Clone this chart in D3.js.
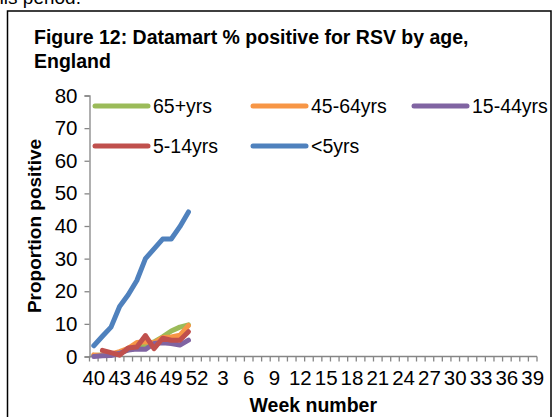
<!DOCTYPE html>
<html>
<head>
<meta charset="utf-8">
<script src="https://cdn.jsdelivr.net/npm/d3@7"></script>
<style>
  body { margin: 0; background: #fff; }
  svg { display: block; font-family: Arial, "Liberation Sans", sans-serif; }
</style>
</head>
<body>
<div id="chart"></div>
<script>
// weeks 40-52 then 1-39
const weeks = [40, 41, 42, 43, 44, 45, 46, 47, 48, 49, 50, 51, 52,
  1, 2, 3, 4, 5, 6, 7, 8, 9, 10, 11, 12, 13, 14, 15, 16, 17, 18, 19, 20,
  21, 22, 23, 24, 25, 26, 27, 28, 29, 30, 31, 32, 33, 34, 35, 36, 37, 38, 39];
const yTicks = [0, 10, 20, 30, 40, 50, 60, 70, 80];

const seriesNames = ["65+yrs", "45-64yrs", "15-44yrs", "5-14yrs", "<5yrs"];
const seriesColors = ["#9BBB59", "#F79646", "#8064A2", "#C0504D", "#4F81BD"];

// values for weeks 40..51
const age65 = [0.3, 0.5, 0.7, 1.2, 2.0, 3.0, 3.7, 4.5, 6.0, 7.8, 9.0, 9.7];
const age45 = [0.5, 0.3, 0.8, 1.5, 2.5, 4.3, 4.5, 4.2, 5.8, 6.0, 6.5, 9.5];
const age15 = [0.0, 0.2, 0.3, 1.0, 2.0, 2.3, 2.2, 4.0, 4.2, 4.0, 3.5, 5.0];
const age5 = [null, 1.9, 1.2, 0.4, 2.6, 2.9, 6.4, 2.4, 5.6, 5.0, 5.0, 7.6];
const under5 = [3.3, 6.2, 9.0, 15.3, 18.9, 23.3, 30.0, 33.0, 36.0, 36.0, 39.8, 44.3];

const seriesValues = [age65, age45, age15, age5, under5];

const width = 555;
const height = 417;
const font = 19.5;
const tickFont = 20.5;

const svg = d3.select("#chart")
  .append("svg")
  .attr("width", width)
  .attr("height", height);

// bit of the page text above the figure
svg.append("text")
  .attr("x", -12)
  .attr("y", 4)
  .attr("font-size", 19)
  .text("this period.");

// figure frame
svg.append("rect")
  .attr("x", 7.5)
  .attr("y", 11)
  .attr("width", 543.5)
  .attr("height", 420)
  .attr("fill", "none")
  .attr("stroke", "#000")
  .attr("stroke-width", 1.5);

svg.append("text")
  .attr("x", 34)
  .attr("y", 44)
  .attr("font-size", font)
  .attr("font-weight", "bold")
  .text("Figure 12: Datamart % positive for RSV by age,");
svg.append("text")
  .attr("x", 34)
  .attr("y", 67.5)
  .attr("font-size", font)
  .attr("font-weight", "bold")
  .text("England");

const plot = { left: 89.5, right: 537, top: 95.5, bottom: 356.5 };

const x = d3.scaleBand()
  .domain(d3.range(weeks.length))
  .range([plot.left, plot.right])
  .padding(0);

const y = d3.scaleLinear()
  .domain([0, 80])
  .range([plot.bottom, plot.top]);

const axisColor = "#868686";

// y axis
const yAxis = svg.append("g")
  .attr("transform", `translate(${plot.left},0)`)
  .call(d3.axisLeft(y).tickValues(yTicks).tickSize(5).tickPadding(7));
yAxis.select(".domain").attr("stroke", axisColor).attr("stroke-width", 1.3);
yAxis.selectAll(".tick line").attr("stroke", axisColor).attr("stroke-width", 1.3);
yAxis.selectAll(".tick text")
  .attr("font-size", tickFont)
  .attr("font-family", "Arial, 'Liberation Sans', sans-serif")
  .attr("fill", "#000");

// x axis: ticks between categories, label every 3rd week
const xg = svg.append("g")
  .attr("transform", `translate(0,${plot.bottom})`);
xg.append("line")
  .attr("x1", plot.left).attr("x2", plot.right)
  .attr("stroke", axisColor).attr("stroke-width", 1.3);
xg.selectAll(".xt")
  .data(d3.range(weeks.length + 1))
  .join("line")
  .attr("class", "xt")
  .attr("x1", i => i < weeks.length ? x(i) : plot.right)
  .attr("x2", i => i < weeks.length ? x(i) : plot.right)
  .attr("y1", 0).attr("y2", 5)
  .attr("stroke", axisColor).attr("stroke-width", 1.3);
xg.selectAll(".xl")
  .data(d3.range(0, weeks.length, 3))
  .join("text")
  .attr("class", "xl")
  .attr("x", i => x(i) + x.bandwidth() / 2)
  .attr("y", 28.5)
  .attr("text-anchor", "middle")
  .attr("font-size", tickFont)
  .text(i => weeks[i]);

// axis titles
svg.append("text")
  .attr("x", (plot.left + plot.right) / 2)
  .attr("y", 412)
  .attr("text-anchor", "middle")
  .attr("font-size", font)
  .attr("font-weight", "bold")
  .text("Week number");
svg.append("text")
  .attr("transform", `translate(41,${(plot.top + plot.bottom) / 2}) rotate(-90)`)
  .attr("text-anchor", "middle")
  .attr("font-size", 19)
  .attr("font-weight", "bold")
  .text("Proportion positive");

// series lines
const line = d3.line()
  .defined(d => d != null)
  .x((d, i) => x(i) + x.bandwidth() / 2)
  .y(d => y(d));

svg.append("g")
  .selectAll("path")
  .data(seriesValues)
  .join("path")
  .attr("d", line)
  .attr("fill", "none")
  .attr("stroke", (d, i) => seriesColors[i])
  .attr("stroke-width", 5)
  .attr("stroke-linejoin", "round")
  .attr("stroke-linecap", "round");

// legend, 3 columns by 2 rows
const legendCols = [95, 253, 414];
const legendRows = [106, 146];
const legend = svg.append("g")
  .selectAll("g")
  .data(seriesNames)
  .join("g")
  .attr("transform", (d, i) => `translate(${legendCols[i % 3]},${legendRows[Math.floor(i / 3)]})`);
legend.append("line")
  .attr("x1", 0).attr("x2", 53)
  .attr("stroke", (d, i) => seriesColors[i])
  .attr("stroke-width", 5)
  .attr("stroke-linecap", "round");
legend.append("text")
  .attr("x", 58)
  .attr("y", 7)
  .attr("font-size", font)
  .text(d => d);
</script>
</body>
</html>
